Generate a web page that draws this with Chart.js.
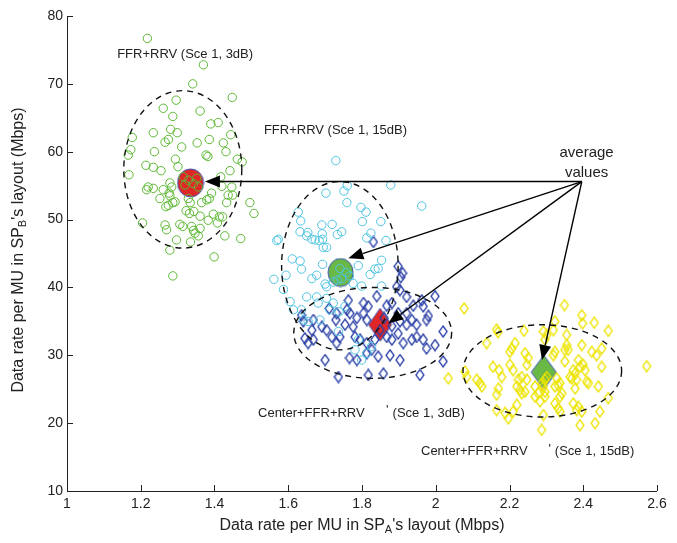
<!DOCTYPE html>
<html>
<head>
<meta charset="utf-8">
<script src="https://cdn.jsdelivr.net/npm/chart.js@4.4.1/dist/chart.umd.min.js"></script>
<style>
  html, body { margin: 0; padding: 0; background: #fff; }
  #wrap { width: 677px; height: 543px; }
</style>
</head>
<body>
<div id="wrap"><canvas id="myChart" width="677" height="543"></canvas></div>
<script>
// axis ticks
const xTicks = [1, 1.2, 1.4, 1.6, 1.8, 2, 2.2, 2.4, 2.6];
const yTicks = [10, 20, 30, 40, 50, 60, 70, 80];

// FFR+RRV (Sce 1, 3dB) - green circles
const ffr3X = [1.218,1.370,1.341,1.448,1.296,1.261,1.361,1.287,1.390,1.410,
  1.281,1.234,1.299,1.275,1.266,1.353,1.386,1.444,1.177,1.173,
  1.166,1.311,1.424,1.431,1.377,1.382,1.237,1.294,1.301,1.462,
  1.475,1.214,1.234,1.255,1.168,1.442,1.417,1.279,1.284,1.220,
  1.216,1.234,1.261,1.420,1.447,1.392,1.449,1.277,1.252,1.279,
  1.293,1.275,1.329,1.334,1.379,1.365,1.386,1.433,1.437,1.268,
  1.287,1.496,1.507,1.323,1.332,1.344,1.361,1.397,1.413,1.383,
  1.205,1.408,1.422,1.266,1.270,1.306,1.314,1.338,1.361,1.343,
  1.347,1.356,1.297,1.335,1.428,1.471,1.279,1.399,1.287,1.315,
  1.329,1.352,1.320,1.343,1.356];
const ffr3Y = [76.7,72.8,70.0,68.0,67.6,66.4,66.0,65.2,64.1,64.3,
  63.3,62.8,62.8,61.8,61.4,61.3,61.8,62.5,62.1,60.3,
  59.5,60.7,61.3,60.0,59.5,59.3,60.0,58.9,57.8,58.9,
  58.5,58.0,57.7,57.2,56.6,57.2,56.3,55.4,54.8,54.8,
  54.4,54.6,54.4,54.9,54.8,53.9,53.6,53.9,53.1,53.5,
  52.6,52.1,53.1,52.5,52.9,52.5,53.1,52.5,53.6,51.9,
  52.5,52.5,50.9,51.3,50.9,51.2,50.5,50.8,50.4,49.9,
  49.5,49.5,50.4,49.2,48.5,49.3,49.0,49.0,48.7,48.4,
  48.0,47.6,47.0,46.7,47.6,47.2,45.5,44.5,41.7,56.3,
  55.8,56.1,55.1,55.3,54.8];

// FFR+RRV (Sce 1, 15dB) - cyan circles
const ffr15X = [1.729,1.878,1.962,1.702,1.751,1.760,1.759,1.797,1.811,1.627,
  1.634,1.801,1.851,1.691,1.719,1.632,1.653,1.650,1.692,1.733,
  1.745,1.824,1.569,1.573,1.664,1.673,1.684,1.693,1.813,1.865,
  1.695,1.704,1.611,1.632,1.636,1.693,1.853,1.790,1.822,1.835,
  1.844,1.561,1.594,1.664,1.677,1.700,1.704,1.766,1.776,1.799,
  1.853,1.587,1.650,1.677,1.733,1.745,1.757,1.740,1.722,1.605,
  1.614,1.636,1.641,1.681,1.704,1.722,1.713,1.738,1.686,1.736,
  1.790,1.781,1.813,1.826,1.799,1.754,1.654];
const ffr15Y = [58.7,55.1,52.0,53.9,54.2,55.0,52.5,51.8,51.1,51.1,
  49.8,49.7,49.7,49.2,49.3,48.2,48.1,47.6,47.9,47.8,
  48.2,48.0,46.9,47.1,47.1,47.0,46.9,47.1,47.3,46.9,
  45.9,45.9,44.2,43.9,42.7,43.4,44.0,43.2,41.9,42.7,
  42.8,41.2,41.8,41.3,41.8,40.5,40.1,41.7,40.6,40.2,
  40.2,39.7,38.6,38.6,41.1,41.3,42.2,42.8,40.8,37.9,
  36.7,36.7,35.2,37.7,38.4,37.7,36.7,36.4,35.2,33.5,
  32.3,30.8,30.3,31.3,29.3,37.2,35.0];

// Center+FFR+RRV (Sce 1, 3dB) - blue diamonds
const cen3X = [1.831,1.910,1.905,1.898,1.894,1.903,1.840,1.763,1.804,1.817,
  1.867,1.881,1.921,1.939,1.966,1.962,1.998,1.711,1.731,1.668,
  1.641,1.636,1.767,1.786,1.804,1.729,1.754,1.776,1.921,1.935,
  1.948,1.975,1.898,1.903,1.704,1.718,1.740,1.731,1.781,1.795,
  1.813,1.835,1.826,1.867,1.881,1.898,1.912,1.935,1.948,1.966,
  1.975,1.998,2.020,1.654,1.668,1.700,1.766,1.786,1.813,1.844,
  1.876,1.903,1.736,1.817,1.858,2.020,1.957,1.664,1.645,1.691,
  1.921,1.980,1.759,1.813,1.849,1.860,1.881];
const cen3Y = [46.7,42.1,41.5,43.1,40.1,39.6,38.7,38.1,37.7,37.2,
  37.3,37.7,38.6,37.3,37.2,38.1,38.7,36.9,36.2,35.2,
  35.0,35.9,36.2,35.5,36.2,35.2,34.5,34.2,36.2,35.2,
  34.5,35.2,36.2,35.0,33.7,32.7,32.7,31.8,32.7,32.3,
  31.8,32.3,30.8,32.7,32.3,33.2,31.8,32.3,32.7,32.3,
  31.0,31.5,33.5,31.8,32.3,29.3,29.6,29.3,30.3,29.8,
  30.0,29.3,26.8,27.1,27.3,29.1,27.1,33.7,32.5,34.2,
  34.5,35.8,36.7,35.2,33.7,35.5,34.3];

// Center+FFR+RRV (Sce 1, 15dB) - yellow diamonds
const cen15X = [2.077,2.349,2.396,2.398,2.430,2.468,2.165,2.169,2.239,2.292,
  2.301,2.296,2.323,2.319,2.355,2.138,2.215,2.206,2.201,2.355,
  2.359,2.350,2.396,2.450,2.423,2.436,2.242,2.251,2.247,2.323,
  2.319,2.155,2.172,2.201,2.210,2.350,2.387,2.391,2.400,2.405,
  2.373,2.378,2.450,2.572,2.079,2.084,2.111,2.120,2.125,2.179,
  2.170,2.233,2.224,2.247,2.220,2.228,2.233,2.242,2.269,2.278,
  2.296,2.292,2.323,2.296,2.301,2.287,2.328,2.332,2.369,2.382,
  2.364,2.409,2.414,2.441,2.337,2.342,2.468,2.269,2.283,2.296,
  2.337,2.323,2.165,2.220,2.210,2.165,2.188,2.197,2.292,2.287,
  2.332,2.373,2.387,2.382,2.396,2.337,2.445,2.391,2.432,2.378,
  2.034];
const cen15Y = [36.9,37.4,35.9,34.7,34.8,33.6,33.8,33.4,33.6,33.5,
  33.0,32.3,35.0,33.7,33.0,31.8,31.8,31.0,30.5,31.5,
  30.8,30.8,31.5,31.0,30.5,30.0,30.3,29.6,28.6,30.5,
  30.0,28.3,27.8,28.6,27.8,29.1,29.3,28.3,28.6,27.8,
  27.8,27.3,28.3,28.4,27.6,26.8,26.4,25.9,25.4,26.8,
  25.1,26.8,26.4,26.4,25.4,24.9,24.4,24.6,25.4,24.4,
  24.6,25.4,25.4,26.4,26.8,25.8,26.6,25.6,26.6,26.4,
  26.8,26.1,25.9,25.4,25.9,24.4,23.7,23.9,23.2,23.9,
  23.9,22.9,24.2,22.7,21.7,21.9,21.5,20.7,21.2,19.0,
  22.2,22.9,22.4,21.9,21.7,21.7,21.7,19.7,20.0,25.1,
  26.6];

// average values of the four groups
const avgX = [1.335, 1.742, 1.849, 2.293];
const avgY = [55.4, 42.2, 34.5, 27.5];

// dashed ellipses: centre and half widths, data units
const ellCX = [1.314, 1.740, 1.829, 2.289];
const ellCY = [57.4, 43.2, 33.3, 27.7];
const ellRX = [0.160, 0.158, 0.214, 0.215];
const ellRY = [11.6, 12.4, 6.7, 6.8];

// arrows from the "average values" note
const arrowFrom = { x: 2.396, y: 55.6 };
const arrowToX = [1.374, 1.763, 1.871, 2.288];
const arrowToY = [55.6, 44.3, 34.7, 29.3];

function pts(xs, ys) {
  return xs.map((x, i) => ({ x: x, y: ys[i] }));
}

function makeDiamond(w, h, stroke, fill, lw) {
  const c = document.createElement('canvas');
  c.width = w + 2; c.height = h + 2;
  const g = c.getContext('2d');
  g.beginPath();
  g.moveTo(c.width / 2, 1);
  g.lineTo(c.width - 1, c.height / 2);
  g.lineTo(c.width / 2, c.height - 1);
  g.lineTo(1, c.height / 2);
  g.closePath();
  if (fill) { g.fillStyle = fill; g.fill(); }
  g.strokeStyle = stroke; g.lineWidth = lw || 1; g.stroke();
  return c;
}

function makeBlob(w, h, stroke, fill) {
  const c = document.createElement('canvas');
  c.width = w + 2; c.height = h + 2;
  const g = c.getContext('2d');
  g.beginPath();
  g.ellipse(c.width / 2, c.height / 2, w / 2, h / 2, 0, 0, Math.PI * 2);
  g.fillStyle = fill; g.fill();
  g.strokeStyle = stroke; g.lineWidth = 1; g.stroke();
  return c;
}

const blueDia = makeDiamond(8, 11, '#2a3fa6', null, 1.3);
const yellowDia = makeDiamond(8, 11, '#ede400', null, 1.3);
const avgStyles = [
  makeBlob(26, 28, '#3b55b5', '#e02626'),
  makeBlob(25, 28, '#3b55b5', '#6ab845'),
  makeDiamond(23, 33, '#3b55b5', '#e02626'),
  makeDiamond(25, 34, '#3b55b5', '#6ab845')
];

const FONT = "'Liberation Sans', Arial, sans-serif";

const overlay = {
  id: 'overlay',
  afterDatasetsDraw(chart) {
    const ctx = chart.ctx;
    const xs = chart.scales.x, ys = chart.scales.y;
    const ca = chart.chartArea;
    ctx.save();

    // dashed ellipses
    ctx.strokeStyle = '#111';
    ctx.lineWidth = 1.4;
    ctx.setLineDash([6, 5]);
    for (let i = 0; i < ellCX.length; i++) {
      const cx = xs.getPixelForValue(ellCX[i]);
      const cy = ys.getPixelForValue(ellCY[i]);
      const rx = Math.abs(xs.getPixelForValue(ellCX[i] + ellRX[i]) - cx);
      const ry = Math.abs(ys.getPixelForValue(ellCY[i] + ellRY[i]) - cy);
      ctx.beginPath();
      ctx.ellipse(cx, cy, rx, ry, 0, 0, Math.PI * 2);
      ctx.stroke();
    }
    ctx.setLineDash([]);

    // arrows
    const fx = xs.getPixelForValue(arrowFrom.x), fy = ys.getPixelForValue(arrowFrom.y);
    ctx.strokeStyle = '#000';
    ctx.fillStyle = '#000';
    ctx.lineWidth = 1.4;
    for (let i = 0; i < arrowToX.length; i++) {
      const tx = xs.getPixelForValue(arrowToX[i]), ty = ys.getPixelForValue(arrowToY[i]);
      const a = Math.atan2(ty - fy, tx - fx);
      const len = 15, half = 6;
      const bx = tx - len * Math.cos(a), by = ty - len * Math.sin(a);
      ctx.beginPath();
      ctx.moveTo(fx, fy);
      ctx.lineTo(bx, by);
      ctx.stroke();
      ctx.beginPath();
      ctx.moveTo(tx, ty);
      ctx.lineTo(bx + half * Math.sin(a), by - half * Math.cos(a));
      ctx.lineTo(bx - half * Math.sin(a), by + half * Math.cos(a));
      ctx.closePath();
      ctx.fill();
    }

    // annotations
    ctx.fillStyle = '#222';
    ctx.font = '13px ' + FONT;
    ctx.textBaseline = 'middle';
    ctx.textAlign = 'left';
    const note = (t, x, y) => ctx.fillText(t, xs.getPixelForValue(x), ys.getPixelForValue(y));
    note('FFR+RRV (Sce 1, 3dB)', 1.136, 74.4);
    note('FFR+RRV (Sce 1, 15dB)', 1.534, 63.2);
    note('Center+FFR+RRV', 1.518, 21.5);
    note("'", 1.865, 21.9);
    note('(Sce 1, 3dB)', 1.883, 21.5);
    note('Center+FFR+RRV', 1.960, 15.8);
    note("'", 2.306, 16.2);
    note('(Sce 1, 15dB)', 2.323, 15.8);
    ctx.font = '15px ' + FONT;
    ctx.textAlign = 'center';
    note('average', 2.409, 59.8);
    note('values', 2.409, 56.9);

    // axis lines and inward tick marks
    ctx.strokeStyle = '#222';
    ctx.lineWidth = 1;
    ctx.beginPath();
    ctx.moveTo(ca.left + 0.5, ca.top);
    ctx.lineTo(ca.left + 0.5, ca.bottom + 0.5);
    ctx.lineTo(ca.right, ca.bottom + 0.5);
    ctx.stroke();
    ctx.beginPath();
    xTicks.forEach(v => {
      const px = Math.round(xs.getPixelForValue(v)) + 0.5;
      ctx.moveTo(px, ca.bottom);
      ctx.lineTo(px, ca.bottom - 6);
    });
    yTicks.forEach(v => {
      const py = Math.round(ys.getPixelForValue(v)) + 0.5;
      ctx.moveTo(ca.left, py);
      ctx.lineTo(ca.left + 6, py);
    });
    ctx.stroke();
    ctx.restore();
  },
  afterDraw(chart) {
    // axis titles with subscripts
    const ctx = chart.ctx;
    const ca = chart.chartArea;
    const parts = (sub) => [['Data rate per MU in SP', 16, 0], [sub, 11, 4], ["'s layout (Mbps)", 16, 0]];
    function drawTitle(list) {
      let w = 0;
      list.forEach(p => { ctx.font = p[1] + 'px ' + FONT; w += ctx.measureText(p[0]).width; });
      let x = -w / 2;
      list.forEach(p => {
        ctx.font = p[1] + 'px ' + FONT;
        ctx.fillText(p[0], x, p[2]);
        x += ctx.measureText(p[0]).width;
      });
    }
    ctx.save();
    ctx.fillStyle = '#222';
    ctx.textBaseline = 'middle';
    ctx.textAlign = 'left';
    ctx.translate((ca.left + ca.right) / 2, 526);
    drawTitle(parts('A'));
    ctx.restore();
    ctx.save();
    ctx.fillStyle = '#222';
    ctx.textBaseline = 'middle';
    ctx.textAlign = 'left';
    ctx.translate(19, 250);
    ctx.rotate(-Math.PI / 2);
    drawTitle(parts('B'));
    ctx.restore();
  }
};

const myChartRef = document.getElementById('myChart').getContext('2d');
new Chart(myChartRef, {
  type: 'scatter',
  data: {
    datasets: [
      {
        label: 'FFR+RRV (Sce 1, 3dB)',
        data: pts(ffr3X, ffr3Y),
        pointStyle: 'circle', pointRadius: 4.2, borderWidth: 1,
        borderColor: '#5cb833', backgroundColor: 'rgba(0,0,0,0)'
      },
      {
        label: 'FFR+RRV (Sce 1, 15dB)',
        data: pts(ffr15X, ffr15Y),
        pointStyle: 'circle', pointRadius: 4.2, borderWidth: 1,
        borderColor: '#4fc4e2', backgroundColor: 'rgba(0,0,0,0)'
      },
      {
        label: 'Center+FFR+RRV (Sce 1, 3dB)',
        data: pts(cen3X, cen3Y),
        pointStyle: blueDia, pointRadius: 5
      },
      {
        label: 'Center+FFR+RRV (Sce 1, 15dB)',
        data: pts(cen15X, cen15Y),
        pointStyle: yellowDia, pointRadius: 5
      },
      {
        label: 'average values',
        data: pts(avgX, avgY),
        pointStyle: avgStyles, pointRadius: 13
      }
    ]
  },
  options: {
    responsive: false,
    animation: false,
    events: [],
    layout: { padding: { left: 0, right: 20, top: 16, bottom: 0 } },
    plugins: { legend: { display: false }, tooltip: { enabled: false } },
    scales: {
      x: {
        type: 'linear', min: 1, max: 2.6,
        afterFit: s => { s.height = 52; },
        afterBuildTicks: s => { s.ticks = xTicks.map(v => ({ value: v })); },
        grid: { display: false, drawTicks: false },
        border: { display: false },
        ticks: {
          padding: 5, color: '#222', font: { family: FONT, size: 14 },
          callback: v => String(+v.toFixed(1))
        }
      },
      y: {
        type: 'linear', min: 10, max: 80,
        afterFit: s => { s.width = 67; },
        afterBuildTicks: s => { s.ticks = yTicks.map(v => ({ value: v })); },
        grid: { display: false, drawTicks: false },
        border: { display: false },
        ticks: {
          padding: 4, color: '#222', font: { family: FONT, size: 14 },
          callback: v => String(v)
        }
      }
    }
  },
  plugins: [overlay]
});
</script>
</body>
</html>
